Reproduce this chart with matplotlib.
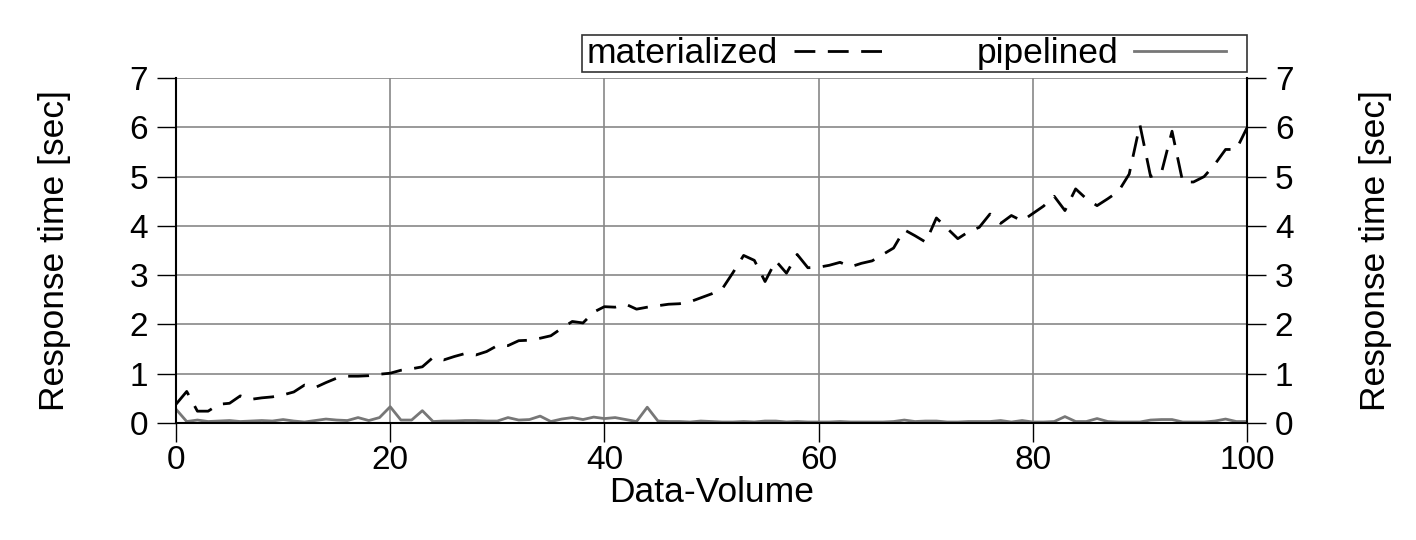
import numpy as np
import matplotlib
matplotlib.use("Agg")
import matplotlib.pyplot as plt
from matplotlib.patches import Rectangle

plt.rcParams['font.family'] = ['Liberation Sans', 'DejaVu Sans']

# Data-Volume 0..100
volume = list(range(0, 101))

materialized = [
    0.38, 0.64, 0.24, 0.24, 0.38, 0.40, 0.55, 0.48, 0.51, 0.53,
    0.57, 0.63, 0.77, 0.72, 0.82, 0.91, 0.95, 0.95, 0.96, 0.99,
    1.01, 1.07, 1.10, 1.14, 1.33, 1.28, 1.35, 1.41, 1.38, 1.45,
    1.57, 1.57, 1.67, 1.68, 1.72, 1.77, 1.92, 2.06, 2.03, 2.25,
    2.36, 2.35, 2.41, 2.31, 2.35, 2.38, 2.41, 2.42, 2.46, 2.54,
    2.62, 2.72, 3.05, 3.40, 3.30, 2.87, 3.29, 3.04, 3.42, 3.15,
    3.16, 3.20, 3.26, 3.17, 3.24, 3.29, 3.42, 3.55, 3.92, 3.80,
    3.67, 4.16, 3.95, 3.74, 3.88, 3.97, 4.24, 4.05, 4.21, 4.10,
    4.25, 4.40, 4.60, 4.31, 4.75, 4.55, 4.41, 4.55, 4.70, 5.05,
    6.05, 5.00, 5.07, 5.92, 4.89, 4.89, 5.00, 5.25, 5.55, 5.55,
    5.99,
]

pipelined = [
    0.28, 0.03, 0.06, 0.03, 0.04, 0.05, 0.03, 0.04, 0.05, 0.04,
    0.07, 0.04, 0.02, 0.05, 0.08, 0.06, 0.05, 0.11, 0.05, 0.11,
    0.33, 0.06, 0.06, 0.25, 0.03, 0.04, 0.04, 0.05, 0.05, 0.04,
    0.04, 0.11, 0.06, 0.07, 0.14, 0.03, 0.08, 0.11, 0.07, 0.12,
    0.09, 0.11, 0.07, 0.03, 0.32, 0.04, 0.03, 0.03, 0.02, 0.04,
    0.03, 0.02, 0.02, 0.03, 0.02, 0.04, 0.04, 0.02, 0.03, 0.02,
    0.02, 0.02, 0.03, 0.02, 0.02, 0.02, 0.02, 0.03, 0.06, 0.03,
    0.04, 0.04, 0.02, 0.02, 0.03, 0.03, 0.03, 0.05, 0.02, 0.05,
    0.02, 0.02, 0.03, 0.13, 0.03, 0.03, 0.09, 0.03, 0.02, 0.02,
    0.02, 0.06, 0.07, 0.07, 0.02, 0.02, 0.02, 0.04, 0.08, 0.03,
    0.03,
]

x_ticks = [0, 20, 40, 60, 80, 100]
y_ticks = [0, 1, 2, 3, 4, 5, 6, 7]
fs_tick = 24
fs_lab = 25.5

W, H = 1416, 540
fig = plt.figure(figsize=(W / 100, H / 100), dpi=100)
ax = fig.add_axes([176 / W, 117 / H, 1071 / W, 345 / H])

ax.plot(volume, materialized, color='black', lw=2.0, dashes=(7.5, 4.5),
        label='materialized')
ax.plot(volume, pipelined, color='#777777', lw=2.0, label='pipelined')

ax.set_xlim(0, 100)
ax.set_ylim(0, 7)
ax.set_xticks(x_ticks)
ax.set_yticks(y_ticks)
ax.grid(True, color='#888888', lw=1.2)
ax.set_axisbelow(True)

ax.tick_params(axis='both', direction='out', length=14, width=1.0,
               labelsize=fs_tick, colors='black')
ax.tick_params(axis='x', pad=2)
ax.tick_params(axis='y', pad=6, right=True, labelright=True)

ax.spines['top'].set_visible(False)
for s in ['left', 'right', 'bottom']:
    ax.spines[s].set_linewidth(1.5)

ax.set_xlabel('Data-Volume', fontsize=fs_lab, labelpad=0)
ax.set_ylabel('Response time [sec]', fontsize=fs_lab, labelpad=42)

# second label on the right side
fig.text(1375 / W, (117 + 345 / 2) / H, 'Response time [sec]',
         rotation=90, fontsize=fs_lab, ha='center', va='center')

# gnuplot-style key: text first, sample after, box with some room on the right
leg = ax.legend(loc='lower right', bbox_to_anchor=(1228 / W, (H - 72) / H),
                bbox_transform=fig.transFigure, ncol=2,
                markerfirst=False, fontsize=fs_lab, frameon=False,
                borderaxespad=0, borderpad=0.05, handlelength=2.6,
                handletextpad=0.45, columnspacing=2.55)

fig.canvas.draw()
bb = leg.get_window_extent()
box_right = 1247
fig.add_artist(Rectangle((bb.x0 - 3, bb.y0), box_right - bb.x0 + 3, bb.height,
                         transform=None, fill=False, ec='#333333', lw=1.2))

fig.savefig('out.png', dpi=100)
